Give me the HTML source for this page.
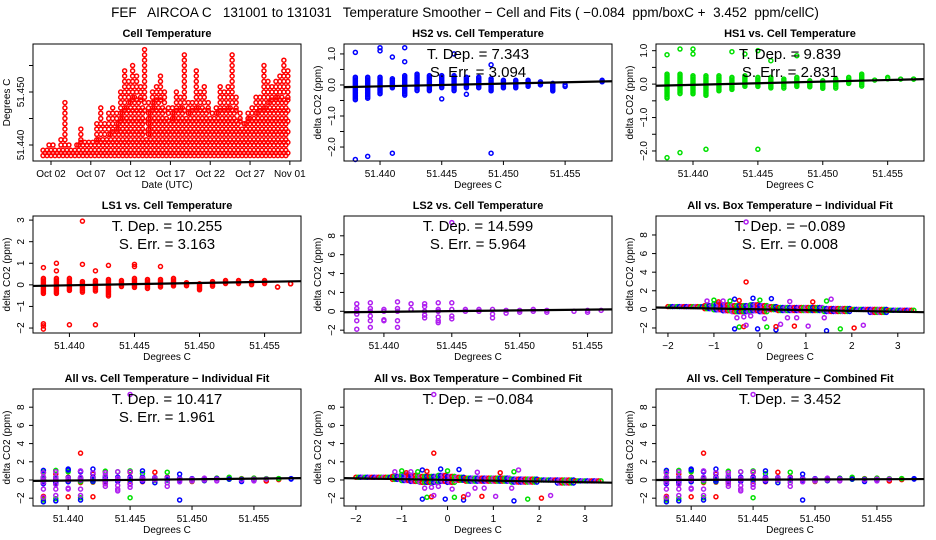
<!DOCTYPE html>
<html><head><meta charset="utf-8"><style>
html,body{margin:0;padding:0;background:#fff}
svg{display:block;font-family:"Liberation Sans",sans-serif}
</style></head><body>
<svg id="chart" width="936" height="540" viewBox="0 0 936 540" xmlns="http://www.w3.org/2000/svg">
<rect width="936" height="540" fill="#fff"/>
<text x="465" y="17" font-size="13.5" text-anchor="middle" xml:space="preserve">FEF   AIRCOA C   131001 to 131031   Temperature Smoother − Cell and Fits ( −0.084  ppm/boxC +  3.452  ppm/cellC)</text>
</svg>
<script>
// ---- data ----
// cell temperature time series: half-day max and bulk level (thousandths above 51.438)
const tsStart = 0, tsStep = 0.5;
const tsMax = [1,2,2,1,3,10,2,1,2,5,2,2,2,6,9,6,8,9,8,12,16,14,17,15,13,20,10,12,13,15,12,9,9,12,11,19,10,10,16,12,13,10,8,9,13,12,13,19,11,8,6,8,9,11,11,17,14,13,14,15,18,16];
const tsBulk = [1,1,1,1,1,1,1,1,1,2,2,2,2,2,3,3,3,4,4,6,8,9,10,11,10,9,3,8,10,10,9,7,6,8,8,9,7,8,8,9,9,8,7,7,8,8,8,9,8,6,5,6,7,7,8,8,9,10,10,11,11,10];
const tsBase = 51.438;
const dateTicks = [1,6,11,16,21,26,31];
const dateLabels = ["Oct 02","Oct 07","Oct 12","Oct 17","Oct 22","Oct 27","Nov 01"];

const tempX = [51.438,51.439,51.440,51.441,51.442,51.443,51.444,51.445,51.446,51.447,51.448,51.449,51.450,51.451,51.452,51.453,51.454,51.455,51.456,51.457,51.458];
// HS2 (blue)
const hs2Lo = [-0.5,-0.45,-0.3,-0.1,-0.35,-0.2,-0.2,-0.1,-0.2,-0.1,-0.1,-0.2,-0.1,-0.1,-0.05,0,-0.2,-0.05,null,null,0.1];
const hs2Hi = [0.25,0.25,0.25,0.2,0.3,0.35,0.3,0.3,0.3,0.25,0.25,0.2,0.15,0.15,0.15,0.1,0.05,0,null,null,0.15];
const hs2OutX = [51.438,51.438,51.439,51.440,51.440,51.441,51.441,51.442,51.442,51.445,51.446,51.447,51.449,51.449];
const hs2OutY = [1.05,-2.4,-2.3,1.1,1.2,0.9,-2.2,1.2,0.75,-0.45,1.0,-0.3,0.65,-2.2];
// HS1 (green)
const hs1Lo = [-0.45,-0.3,-0.3,-0.35,-0.2,-0.2,-0.1,-0.1,-0.15,-0.15,-0.1,-0.1,-0.15,-0.15,0,-0.1,0.1,0.15,0.12,0.15,null];
const hs1Hi = [0.3,0.3,0.25,0.25,0.25,0.2,0.25,0.2,0.2,0.15,0.2,0.1,0.1,0.15,0.2,0.3,0.12,0.2,0.15,0.15,null];
const hs1OutX = [51.438,51.438,51.439,51.439,51.440,51.440,51.441,51.443,51.444,51.445,51.445,51.446,51.448];
const hs1OutY = [0.88,-2.2,1.05,-2.05,1.05,0.9,-1.95,0.97,0.9,1.0,-1.95,0.7,0.85];
// LS1 (red)
const ls1Lo = [-0.45,-0.4,-0.3,-0.4,-0.3,-0.55,-0.1,-0.15,-0.2,-0.1,-0.1,-0.05,-0.25,-0.1,0.05,0,-0.05,0.05,-0.1,0.05,null];
const ls1Hi = [0.3,0.3,0.3,0.15,0.2,0.25,0.2,0.3,0.25,0.25,0.3,0.1,0.05,0.15,0.2,0.2,0.15,0.2,-0.1,0.05,null];
const ls1OutX = [51.438,51.438,51.438,51.438,51.439,51.439,51.440,51.441,51.441,51.442,51.442,51.443,51.445,51.445,51.447];
const ls1OutY = [0.8,-1.8,-1.9,-2.05,1.0,0.65,-1.85,2.95,0.95,0.65,-1.85,0.9,0.85,0.95,0.85];
// LS2 (purple)
const ls2X = [51.438,51.438,51.438,51.438,51.438,51.438,51.439,51.439,51.439,51.439,51.439,51.439,51.440,51.440,51.440,51.440,51.441,51.441,51.441,51.441,51.441,51.442,51.442,51.443,51.443,51.443,51.443,51.443,51.444,51.444,51.444,51.444,51.444,51.444,51.445,51.445,51.445,51.445,51.445,51.446,51.446,51.447,51.447,51.448,51.448,51.448,51.449,51.449,51.450,51.450,51.451,51.451,51.452,51.452,51.454,51.455,51.455,51.456];
const ls2Y = [0.8,0.3,0,-0.3,-1,-1.9,0.9,0.3,0,-0.5,-1,-1.7,0.2,0,-0.9,-1,1,0.3,0,-1,-1.7,0.8,0.2,0.8,0.5,0,-0.4,-0.7,0.9,0.2,0,-0.6,-1,-1.2,9.4,0.9,0.2,-0.5,-0.8,0.2,0,0.2,0,0.2,-0.3,-0.7,0.1,-0.2,0.1,-0.1,0.2,0,0.1,-0.1,0,0.1,-0.1,0.1];
// Box temperature (all series)
const boxX = [-2.0,-1.8,-1.6,-1.4,-1.2,-1.0,-0.8,-0.6,-0.4,-0.2,0.0,0.2,0.4,0.6,0.8,1.0,1.2,1.4,1.6,1.8,2.0,2.2,2.4,2.6,2.8,3.0,3.2,3.4];
const boxLo = [0.1,0.05,0.05,0.0,-0.1,-0.2,-0.3,-0.3,-0.4,-0.4,-0.4,-0.3,-0.3,-0.3,-0.3,-0.3,-0.3,-0.3,-0.3,-0.3,-0.3,-0.3,-0.35,-0.35,-0.35,-0.35,-0.35,-0.35];
const boxHi = [0.3,0.3,0.3,0.3,0.4,0.6,0.5,0.4,0.4,0.5,0.4,0.3,0.2,0.2,0.2,0.2,0.2,0.1,0.1,0.1,0.0,0.0,0.0,0.0,-0.1,-0.1,-0.1,-0.15];
const boxOutX = [-0.3,-0.3,-0.55,-0.45,-0.35,-0.3,-0.05,0.15,0.35,0.35,0.45,0.75,1.05,1.45,1.75,2.05,2.25,1.15,1.45,1.55,0.65,0.25,-0.65,-0.55,-0.15,0.0,0.8,1.4,-1.15,-0.9,-0.5,-0.35,-0.2,0.1,0.6,-1.0,-0.8,-0.45];
const boxOutY = [9.4,2.95,-2.1,-1.9,-1.85,-1.7,-2.1,-1.9,-2.2,-1.85,-1.6,-1.8,-1.8,-2.3,-2.1,-2.0,-1.7,0.8,0.9,1.1,0.85,1.15,0.9,1.1,1.2,1.0,-0.9,-0.9,0.9,0.8,-0.9,-0.8,-0.7,-1.0,-0.9,1.0,0.9,0.95];
const boxOutS = [3,0,2,1,0,3,2,1,2,0,3,0,3,2,1,0,3,0,1,3,3,2,1,2,2,1,3,3,3,0,3,3,3,3,3,1,3,0];
// fits
const fitHs2 = [-0.07,0.12], fitHs1 = [-0.05,0.15], fitLs1 = [-0.05,0.17], fitLs2 = [-0.1,0.2];
const fitAllInd = [-0.1,0.2], fitBoxInd = [0.2,-0.3], fitBoxComb = [0.2,-0.3], fitAllComb = [0.0,0.1];

// ---- drawing ----
const NS = "http://www.w3.org/2000/svg";
const svg = document.getElementById('chart');
const COL = ["#ff0000","#00e000","#0000ff","#b020f0"];
function mk(tag, attrs, parent){ const e=document.createElementNS(NS,tag); for(const k in attrs) e.setAttribute(k,attrs[k]); (parent||svg).appendChild(e); return e; }

function panel(o){
  const g = mk('g',{});
  
  
  const [x0,y0,x1,y1]=o.box;
  const sx=v=>x0+(v-o.xd[0])/(o.xd[1]-o.xd[0])*(x1-x0);
  const sy=v=>y1-(v-o.yd[0])/(o.yd[1]-o.yd[0])*(y1-y0);
  const pts = mk('g',{},g);
  
  
  o.draw(sx,sy,pts);
  if(o.fit){
    const fl = mk('line',{x1:x0,x2:x1,y1:sy(o.fit[0]),y2:sy(o.fit[1]),stroke:'#000','stroke-width':2.2},g);
    
    
  }
  const b = mk('rect',{x:x0,y:y0,width:x1-x0,height:y1-y0,fill:'none',stroke:'#000','stroke-width':1},g);
  
  
  o.xt.forEach((v,i)=>{
    const x=sx(v);
    mk('line',{x1:x,x2:x,y1:y1,y2:y1+4,stroke:'#000'},g);
    const t=mk('text',{x:x,y:y1+16,'font-size':10,'text-anchor':'middle'},g);
    t.textContent=o.xl[i];
    
    
  });
  o.yt.forEach((v,i)=>{
    const y=sy(v);
    mk('line',{x1:x0-4,x2:x0,y1:y,y2:y,stroke:'#000'},g);
    if(o.yl[i]!==''){
      const t=mk('text',{x:0,y:0,'font-size':10,'text-anchor':'middle',transform:`translate(${x0-9},${y}) rotate(-90)`},g);
      t.textContent=o.yl[i];
      
      
    }
  });
  const ti=mk('text',{x:(x0+x1)/2,y:y0-7,'font-size':11,'font-weight':'bold','text-anchor':'middle'},g);
  ti.textContent=o.title;
  
  
  const xt=mk('text',{x:(x0+x1)/2,y:y1+27,'font-size':10,'text-anchor':'middle'},g);
  xt.textContent=o.xlab;
  
  
  const yt=mk('text',{x:0,y:0,'font-size':10,'text-anchor':'middle',transform:`translate(${x0-23},${(y0+y1)/2}) rotate(-90)`},g);
  yt.textContent=o.ylab;
  
  
  (o.stats||[]).forEach((s,i)=>{
    const t=mk('text',{x:(x0+x1)/2,y:y0+15+i*18,'font-size':15,'text-anchor':'middle','xml:space':'preserve'},g);
    t.textContent=s;
    
    
  });
}
function dot(p,x,y,c){ mk('circle',{cx:x,cy:y,r:2,fill:'none',stroke:c,'stroke-width':1.5},p); }
function bands(p,sx,sy,xs,lo,hi,c,stepPx){
  xs.forEach((xv,i)=>{ if(lo[i]==null) return; const a=sy(hi[i]), b=sy(lo[i]);
    for(let y=a;y<=b+0.01;y+=stepPx) dot(p,sx(xv),y,c); if(b-a<0.5) dot(p,sx(xv),b,c); });
}
function outs(p,sx,sy,xs,ys,c){ xs.forEach((v,i)=>dot(p,sx(v),sy(ys[i]),c)); }
function drawAll(sx,sy,p){
  bands(p,sx,sy,tempX,ls1Lo,ls1Hi,COL[0],2); outs(p,sx,sy,ls1OutX,ls1OutY,COL[0]);
  bands(p,sx,sy,tempX,hs1Lo,hs1Hi,COL[1],2); outs(p,sx,sy,hs1OutX,hs1OutY,COL[1]);
  bands(p,sx,sy,tempX,hs2Lo,hs2Hi,COL[2],2); outs(p,sx,sy,hs2OutX,hs2OutY,COL[2]);
  outs(p,sx,sy,ls2X,ls2Y,COL[3]);
}
function drawBox(sx,sy,p){
  for(let i=0;i<boxX.length-1;i++){
    for(let k=0;k<4;k++){
      const xv=boxX[i]+(boxX[i+1]-boxX[i])*k/4;
      const lo=boxLo[i], hi=boxHi[i];
      for(let y=sy(hi);y<=sy(lo)+0.01;y+=3) dot(p,sx(xv),y,COL[(k+i)%4]);
    }
  }
  boxOutX.forEach((v,i)=>dot(p,sx(v),sy(boxOutY[i]),COL[boxOutS[i]]));
}
const tX=[51.440,51.445,51.450,51.455], tL=["51.440","51.445","51.450","51.455"];
const hsT=[-2,-1.5,-1,-0.5,0,0.5,1], hsL=["−2.0","","−1.0","","0.0","","1.0"];
const bigT=[-2,0,2,4,6,8], bigL=["−2","0","2","4","6","8"];
const bxT=[-2,-1,0,1,2,3], bxL=["−2","−1","0","1","2","3"];
const YL="delta CO2 (ppm)", XL="Degrees C";
const C1=[33,301],C2=[344,612],C3=[656,924],R1=[44,161],R2=[216,333],R3=[389,506];

panel({name:'cell-temperature-panel',box:[C1[0],R1[0],C1[1],R1[1]],xd:[-1.26,32.4],yd:[51.43698,51.45906],
  xt:dateTicks,xl:dateLabels,yt:[51.440,51.445,51.450,51.455],yl:["51.440","","51.450",""],
  title:'Cell Temperature',xlab:'Date (UTC)',ylab:'Degrees C',
  draw:(sx,sy,p)=>{ tsMax.forEach((m,i)=>{ const t=tsStart+i*tsStep;
    for(let k=0;k<=tsBulk[i];k++){ dot(p,sx(t),sy(tsBase+k*0.001),COL[0]); if(k%2===0) dot(p,sx(t+0.25),sy(tsBase+(k+0.5)*0.001),COL[0]); }
    for(let k=tsBulk[i]+1;k<=m;k++) dot(p,sx(t+0.25),sy(tsBase+k*0.001),COL[0]); }); }});
panel({name:'hs2-panel',box:[C2[0],R1[0],C2[1],R1[1]],xd:[51.43708,51.4588],yd:[-2.45,1.32],xt:tX,xl:tL,yt:hsT,yl:hsL,
  title:'HS2 vs. Cell Temperature',xlab:XL,ylab:YL,fit:fitHs2,stats:['T. Dep. = 7.343','S. Err. = 3.094'],
  draw:(sx,sy,p)=>{bands(p,sx,sy,tempX,hs2Lo,hs2Hi,COL[2],1.5);outs(p,sx,sy,hs2OutX,hs2OutY,COL[2]);}});
panel({name:'hs1-panel',box:[C3[0],R1[0],C3[1],R1[1]],xd:[51.43715,51.4578],yd:[-2.3,1.2],xt:tX,xl:tL,yt:hsT,yl:hsL,
  title:'HS1 vs. Cell Temperature',xlab:XL,ylab:YL,fit:fitHs1,stats:['T. Dep. = 9.839','S. Err. = 2.831'],
  draw:(sx,sy,p)=>{bands(p,sx,sy,tempX,hs1Lo,hs1Hi,COL[1],1.5);outs(p,sx,sy,hs1OutX,hs1OutY,COL[1]);}});
panel({name:'ls1-panel',box:[C1[0],R2[0],C1[1],R2[1]],xd:[51.4372,51.4578],yd:[-2.23,3.19],xt:tX,xl:tL,yt:[-2,-1,0,1,2,3],yl:["−2","−1","0","1","2","3"],
  title:'LS1 vs. Cell Temperature',xlab:XL,ylab:YL,fit:fitLs1,stats:['T. Dep. =  10.255','S. Err. =  3.163'],
  draw:(sx,sy,p)=>{bands(p,sx,sy,tempX,ls1Lo,ls1Hi,COL[0],1.5);outs(p,sx,sy,ls1OutX,ls1OutY,COL[0]);}});
panel({name:'ls2-panel',box:[C2[0],R2[0],C2[1],R2[1]],xd:[51.43706,51.4568],yd:[-2.3,10.1],xt:tX,xl:tL,yt:bigT,yl:bigL,
  title:'LS2 vs. Cell Temperature',xlab:XL,ylab:YL,fit:fitLs2,stats:['T. Dep. =  14.599','S. Err. =  5.964'],
  draw:(sx,sy,p)=>{outs(p,sx,sy,ls2X,ls2Y,COL[3]);}});
panel({name:'box-individual-panel',box:[C3[0],R2[0],C3[1],R2[1]],xd:[-2.26,3.57],yd:[-2.54,10.04],xt:bxT,xl:bxL,yt:bigT,yl:bigL,
  title:'All vs. Box Temperature − Individual Fit',xlab:XL,ylab:YL,fit:fitBoxInd,stats:['T. Dep. =  −0.089','S. Err. =  0.008'],draw:drawBox});
panel({name:'cell-individual-panel',box:[C1[0],R3[0],C1[1],R3[1]],xd:[51.43716,51.4588],yd:[-2.86,10],xt:tX,xl:tL,yt:bigT,yl:bigL,
  title:'All vs. Cell Temperature − Individual Fit',xlab:XL,ylab:YL,fit:fitAllInd,stats:['T. Dep. =  10.417','S. Err. =  1.961'],draw:drawAll});
panel({name:'box-combined-panel',box:[C2[0],R3[0],C2[1],R3[1]],xd:[-2.26,3.59],yd:[-2.86,10],xt:bxT,xl:bxL,yt:bigT,yl:bigL,
  title:'All vs. Box Temperature − Combined Fit',xlab:XL,ylab:YL,fit:fitBoxComb,stats:['T. Dep. =  −0.084'],draw:drawBox});
panel({name:'cell-combined-panel',box:[C3[0],R3[0],C3[1],R3[1]],xd:[51.43716,51.4588],yd:[-2.86,10],xt:tX,xl:tL,yt:bigT,yl:bigL,
  title:'All vs. Cell Temperature − Combined Fit',xlab:XL,ylab:YL,fit:fitAllComb,stats:['T. Dep. =  3.452'],draw:drawAll});
</script>
</body></html>
